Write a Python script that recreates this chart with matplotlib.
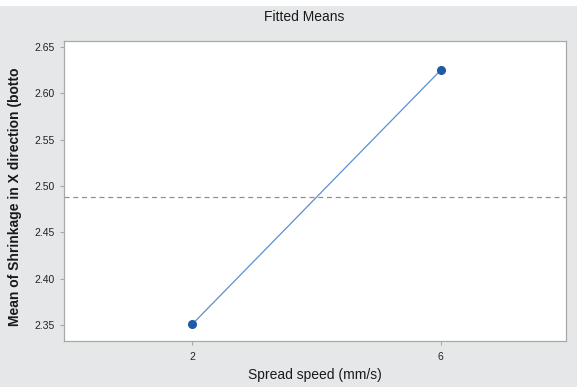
import matplotlib.pyplot as plt
from matplotlib.patches import Rectangle

# data
speeds = [2, 6]
means = [2.351, 2.625]
overall_mean = 2.488
yticks = [2.35, 2.40, 2.45, 2.50, 2.55, 2.60, 2.65]

plt.rcParams['font.family'] = ['Liberation Sans', 'DejaVu Sans']

fig = plt.figure(figsize=(5.77, 3.87), dpi=100, facecolor='#e6e7e8')
# white strip at very top (cropped screenshot)
fig.patches.append(Rectangle((0, 1 - 6 / 387), 1, 6 / 387, transform=fig.transFigure,
                             facecolor='white', edgecolor='none'))

ax = fig.add_axes([0.111, 0.119, 0.870, 0.775])
ax.set_facecolor('white')

ax.plot(speeds, means, color='#5b8fd0', linewidth=0.9, zorder=2)
ax.plot(speeds, means, 'o', color='#1f5aa8', markersize=5.5, zorder=3)
ax.axhline(overall_mean, color='#909090', linestyle=(0, (4, 3)), linewidth=0.9, zorder=1)

ax.set_xlim(-0.07, 8.02)
ax.set_ylim(2.3327, 2.6565)
ax.set_xticks(speeds)
ax.set_xticklabels([str(s) for s in speeds])
ax.set_yticks(yticks)
ax.set_yticklabels(['%.2f' % v for v in yticks])

for s in ax.spines.values():
    s.set_color('#a8a8a8')
    s.set_linewidth(0.9)
ax.tick_params(colors='#a8a8a8', labelcolor='#222222', length=3, width=0.8, labelsize=7.5)
ax.tick_params(axis='x', pad=5)

ax.set_xlabel('Spread speed (mm/s)', fontsize=10, color='#1a1a1a', labelpad=4)
ax.set_ylabel('Mean of Shrinkage in X direction (botto', fontsize=10, fontweight='bold',
              color='#1a1a1a')
ax.yaxis.set_label_coords(-0.084, 0.48)
fig.text(0.528, 0.955, 'Fitted Means', ha='center', va='center', fontsize=10, color='#1a1a1a')

fig.savefig('out.png', dpi=100, facecolor=fig.get_facecolor())
